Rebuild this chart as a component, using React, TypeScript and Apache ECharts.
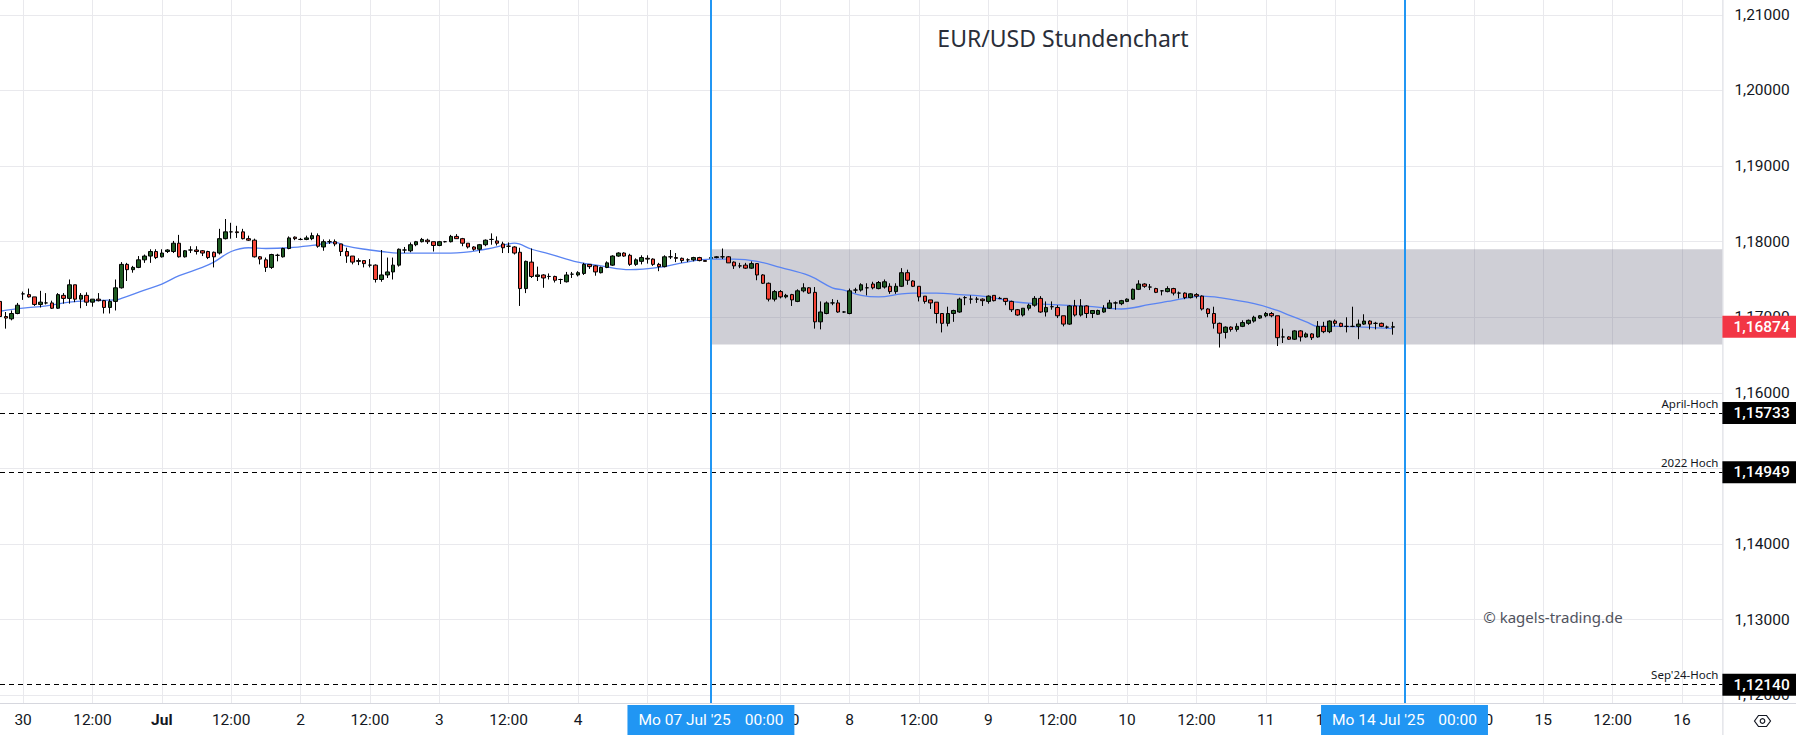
import React, { useEffect, useRef } from "react";
import * as echarts from "echarts";

// ---------- DATA ----------
// trading sessions (hour slots per day, weekends skipped)
const sessionDays = [
  { date: "2025-06-27", from: 19, to: 22 },
  { date: "2025-06-30", from: 0, to: 23 },
  { date: "2025-07-01", from: 0, to: 23 },
  { date: "2025-07-02", from: 0, to: 23 },
  { date: "2025-07-03", from: 0, to: 23 },
  { date: "2025-07-04", from: 0, to: 22 },
  { date: "2025-07-07", from: 0, to: 23 },
  { date: "2025-07-08", from: 0, to: 23 },
  { date: "2025-07-09", from: 0, to: 23 },
  { date: "2025-07-10", from: 0, to: 23 },
  { date: "2025-07-11", from: 0, to: 23 },
  { date: "2025-07-14", from: 0, to: 23 },
  { date: "2025-07-15", from: 0, to: 23 },
  { date: "2025-07-16", from: 0, to: 7 },
];

// hourly candles [open, high, low, close]
const c0627 = [
  [1.1721, 1.1723, 1.1699, 1.1701], [1.1701, 1.1707, 1.1685, 1.1699], [1.1698, 1.1709, 1.1696, 1.1705],
  [1.1705, 1.1719, 1.1704, 1.1716],
];
const c0630 = [
  [1.1731, 1.1734, 1.1723, 1.1731], [1.173, 1.1738, 1.1726, 1.1727], [1.1727, 1.1727, 1.1715, 1.1717],
  [1.1717, 1.1735, 1.1713, 1.172], [1.1719, 1.1732, 1.1717, 1.1719], [1.1719, 1.1722, 1.1711, 1.1712],
  [1.1712, 1.1732, 1.1711, 1.173], [1.1729, 1.1732, 1.1718, 1.1725], [1.1725, 1.175, 1.1718, 1.1743],
  [1.1743, 1.1743, 1.172, 1.1724], [1.1724, 1.1732, 1.1712, 1.1729], [1.1729, 1.1733, 1.1715, 1.172],
  [1.172, 1.1724, 1.1714, 1.1724], [1.1724, 1.1732, 1.1721, 1.1722], [1.1722, 1.1723, 1.1705, 1.1713],
  [1.1713, 1.1724, 1.1705, 1.1721], [1.1721, 1.175, 1.1709, 1.1739], [1.1739, 1.1773, 1.1738, 1.177],
  [1.177, 1.1772, 1.1748, 1.1763], [1.1763, 1.1768, 1.1759, 1.1766], [1.1766, 1.1781, 1.1765, 1.1776],
  [1.1776, 1.1783, 1.1772, 1.1781], [1.1781, 1.179, 1.1772, 1.1787], [1.1787, 1.179, 1.1777, 1.1779],
];
const c0701 = [
  [1.178, 1.179, 1.1779, 1.1785], [1.1787, 1.179, 1.1785, 1.1789], [1.1787, 1.1801, 1.1785, 1.1798],
  [1.1798, 1.1809, 1.1779, 1.178], [1.178, 1.1789, 1.1779, 1.1788], [1.1789, 1.1794, 1.1785, 1.1789],
  [1.1789, 1.1794, 1.1783, 1.1787], [1.1788, 1.1789, 1.1781, 1.1785], [1.1787, 1.1788, 1.1777, 1.1779],
  [1.1786, 1.1787, 1.1766, 1.178], [1.1785, 1.1817, 1.1783, 1.1804], [1.1804, 1.183, 1.1803, 1.1813],
  [1.1813, 1.1825, 1.1804, 1.1813], [1.1813, 1.1821, 1.1805, 1.1812], [1.1813, 1.1817, 1.1803, 1.1804],
  [1.1804, 1.1808, 1.1801, 1.1802], [1.1802, 1.1804, 1.1779, 1.178], [1.178, 1.1781, 1.177, 1.1777],
  [1.1776, 1.1779, 1.176, 1.1766], [1.1766, 1.1784, 1.1764, 1.1783], [1.1782, 1.1784, 1.1774, 1.1782],
  [1.178, 1.1792, 1.1779, 1.1791], [1.1791, 1.1807, 1.179, 1.1805], [1.1806, 1.1807, 1.1802, 1.1804],
];
const c0702 = [
  [1.1803, 1.1805, 1.1802, 1.1803], [1.1803, 1.1808, 1.1802, 1.1805], [1.1804, 1.1812, 1.1802, 1.1808],
  [1.1808, 1.1811, 1.1792, 1.1794], [1.1793, 1.1803, 1.1788, 1.18], [1.18, 1.1803, 1.1797, 1.18],
  [1.18, 1.1803, 1.1794, 1.1797], [1.1797, 1.1797, 1.1781, 1.1787], [1.1787, 1.1792, 1.1772, 1.1781],
  [1.1781, 1.1781, 1.177, 1.1773], [1.1775, 1.1778, 1.1769, 1.1774], [1.1775, 1.1775, 1.1766, 1.1771],
  [1.1769, 1.1777, 1.1766, 1.1769], [1.1769, 1.177, 1.1746, 1.175], [1.175, 1.1789, 1.1747, 1.1756],
  [1.1756, 1.1779, 1.1752, 1.176], [1.176, 1.1779, 1.175, 1.1769], [1.1769, 1.1791, 1.1767, 1.179],
  [1.1789, 1.1793, 1.1785, 1.1789], [1.1788, 1.1799, 1.1786, 1.1796], [1.1796, 1.1801, 1.1794, 1.18],
  [1.18, 1.1805, 1.1799, 1.1803], [1.1802, 1.1804, 1.1797, 1.18], [1.18, 1.18, 1.1787, 1.1795],
];
const c0703 = [
  [1.1795, 1.1801, 1.1794, 1.18], [1.18, 1.1801, 1.1799, 1.18], [1.18, 1.1809, 1.1799, 1.1807],
  [1.1807, 1.181, 1.1804, 1.1804], [1.1804, 1.1805, 1.1794, 1.1798], [1.1798, 1.1798, 1.1791, 1.1793],
  [1.1793, 1.1794, 1.1788, 1.179], [1.179, 1.1797, 1.1785, 1.1796], [1.1796, 1.1803, 1.1794, 1.1802],
  [1.1803, 1.1811, 1.1796, 1.1803], [1.1801, 1.1807, 1.1795, 1.1798], [1.1797, 1.18, 1.1785, 1.1792],
  [1.1794, 1.1799, 1.1785, 1.1794], [1.1793, 1.1794, 1.1783, 1.1785], [1.1786, 1.1792, 1.1715, 1.1738],
  [1.1738, 1.1775, 1.1732, 1.1774], [1.1773, 1.1791, 1.1752, 1.1754], [1.1754, 1.1767, 1.1748, 1.1756],
  [1.1756, 1.1757, 1.1739, 1.1752], [1.1754, 1.1758, 1.175, 1.1754], [1.1754, 1.1755, 1.1746, 1.1749],
  [1.175, 1.1751, 1.1744, 1.175], [1.1747, 1.176, 1.1746, 1.1756], [1.1757, 1.176, 1.1752, 1.1757],
];
const c0704 = [
  [1.1756, 1.1761, 1.1754, 1.1759], [1.1758, 1.1772, 1.1756, 1.177], [1.177, 1.177, 1.1764, 1.1767],
  [1.1768, 1.1769, 1.1755, 1.176], [1.1759, 1.1767, 1.1758, 1.1766], [1.1766, 1.1774, 1.1765, 1.1772],
  [1.1769, 1.1782, 1.1768, 1.1781], [1.1781, 1.1786, 1.178, 1.1785], [1.1785, 1.1786, 1.178, 1.1781],
  [1.1782, 1.1784, 1.1768, 1.177], [1.177, 1.1778, 1.1768, 1.1776], [1.1774, 1.1782, 1.177, 1.1779],
  [1.1778, 1.1782, 1.1771, 1.1777], [1.1777, 1.1778, 1.1768, 1.177], [1.177, 1.1772, 1.1761, 1.1767],
  [1.1767, 1.1782, 1.1766, 1.178], [1.178, 1.1789, 1.1777, 1.178], [1.1779, 1.1785, 1.1773, 1.1778],
  [1.1778, 1.1779, 1.1772, 1.1775], [1.1776, 1.1778, 1.1773, 1.1776], [1.1776, 1.178, 1.1774, 1.1779],
  [1.1779, 1.178, 1.1774, 1.1775], [1.1775, 1.1775, 1.1774, 1.1774],
];
const c0707 = [
  [1.1778, 1.1781, 1.1776, 1.1779], [1.1779, 1.1781, 1.1778, 1.178], [1.178, 1.1791, 1.1777, 1.178],
  [1.178, 1.1781, 1.1772, 1.1772], [1.1773, 1.1774, 1.1764, 1.1768], [1.1768, 1.1772, 1.1765, 1.1768],
  [1.1769, 1.1772, 1.1764, 1.1765], [1.1765, 1.1774, 1.1764, 1.1771], [1.1771, 1.1771, 1.1749, 1.1756],
  [1.1756, 1.1757, 1.1744, 1.1745], [1.1745, 1.1746, 1.1721, 1.1724], [1.1724, 1.1736, 1.1721, 1.1734],
  [1.1734, 1.1736, 1.1725, 1.1727], [1.1727, 1.1731, 1.1725, 1.1729], [1.173, 1.1731, 1.1715, 1.1723],
  [1.1721, 1.1737, 1.172, 1.1735], [1.1735, 1.1745, 1.1733, 1.1739], [1.1739, 1.174, 1.1731, 1.1732],
  [1.1733, 1.174, 1.1685, 1.1694], [1.1694, 1.1721, 1.1684, 1.1707], [1.1705, 1.1721, 1.1704, 1.1719],
  [1.1719, 1.1724, 1.1716, 1.1719], [1.1719, 1.1723, 1.1706, 1.1707], [1.1707, 1.1708, 1.1706, 1.1707],
];
const c0708 = [
  [1.1705, 1.1738, 1.1704, 1.1735], [1.1736, 1.1739, 1.1732, 1.1736], [1.1736, 1.1745, 1.1734, 1.1743],
  [1.1739, 1.1745, 1.1729, 1.1739], [1.1744, 1.1747, 1.1737, 1.1739], [1.1738, 1.1748, 1.1737, 1.1746],
  [1.174, 1.175, 1.1738, 1.1747], [1.1741, 1.1745, 1.1731, 1.1734], [1.1734, 1.1745, 1.1731, 1.1741],
  [1.1741, 1.1765, 1.174, 1.1759], [1.1759, 1.1763, 1.1743, 1.1749], [1.1748, 1.1749, 1.174, 1.1741],
  [1.1741, 1.1741, 1.1721, 1.1727], [1.1728, 1.1728, 1.1718, 1.1721], [1.1723, 1.1723, 1.1711, 1.1719],
  [1.172, 1.172, 1.1692, 1.1705], [1.1705, 1.1705, 1.168, 1.1692], [1.1692, 1.1714, 1.1688, 1.1705],
  [1.1705, 1.171, 1.1694, 1.1709], [1.1707, 1.1726, 1.1706, 1.1724], [1.1726, 1.1728, 1.1716, 1.1726],
  [1.1724, 1.1729, 1.1718, 1.1724], [1.1724, 1.1727, 1.1719, 1.1724], [1.1724, 1.1725, 1.1715, 1.1722],
];
const c0709 = [
  [1.1721, 1.1729, 1.1718, 1.1728], [1.1729, 1.1729, 1.1721, 1.1722], [1.1725, 1.1727, 1.1724, 1.1725],
  [1.1725, 1.1725, 1.1716, 1.1721], [1.1721, 1.1722, 1.1707, 1.171], [1.171, 1.1711, 1.1702, 1.1703],
  [1.1703, 1.1712, 1.1701, 1.1712], [1.1712, 1.1718, 1.1709, 1.1716], [1.1716, 1.1728, 1.1714, 1.1725],
  [1.1725, 1.1728, 1.1706, 1.1707], [1.1707, 1.1721, 1.1701, 1.1713], [1.1714, 1.1721, 1.171, 1.1714],
  [1.1713, 1.1716, 1.1699, 1.1702], [1.1702, 1.1702, 1.1688, 1.1691], [1.1691, 1.1716, 1.169, 1.1715],
  [1.1715, 1.1723, 1.1701, 1.1703], [1.1703, 1.1724, 1.1701, 1.1715], [1.1715, 1.1716, 1.1699, 1.1705],
  [1.1705, 1.1709, 1.1699, 1.1709], [1.1704, 1.171, 1.1703, 1.1709], [1.1707, 1.1716, 1.1706, 1.1712],
  [1.1712, 1.1723, 1.1711, 1.1719], [1.1719, 1.1721, 1.171, 1.1719], [1.1718, 1.1723, 1.1716, 1.1722],
];
const c0710 = [
  [1.1721, 1.1725, 1.172, 1.1724], [1.1724, 1.1738, 1.1723, 1.1737], [1.1737, 1.1749, 1.1736, 1.1744],
  [1.1744, 1.1745, 1.1739, 1.1741], [1.174, 1.1744, 1.1736, 1.174], [1.1738, 1.1739, 1.1732, 1.1733],
  [1.1735, 1.1736, 1.1729, 1.1735], [1.1734, 1.1741, 1.1733, 1.1738], [1.1738, 1.1739, 1.1729, 1.1732],
  [1.1732, 1.1734, 1.1725, 1.1732], [1.1732, 1.1733, 1.1724, 1.1726], [1.1726, 1.1732, 1.1725, 1.1731],
  [1.173, 1.1732, 1.1725, 1.1728], [1.1728, 1.1729, 1.1709, 1.1711], [1.1711, 1.1712, 1.17, 1.1705],
  [1.1705, 1.1714, 1.1685, 1.1692], [1.1692, 1.1693, 1.166, 1.1679], [1.168, 1.1688, 1.1672, 1.1687],
  [1.1687, 1.1688, 1.1681, 1.1684], [1.1684, 1.1692, 1.1681, 1.1688], [1.1688, 1.1696, 1.1687, 1.1693],
  [1.1692, 1.1697, 1.169, 1.1696], [1.1695, 1.1702, 1.1693, 1.17], [1.1699, 1.1703, 1.1698, 1.1702],
];
const c0711 = [
  [1.1702, 1.1707, 1.17, 1.1705], [1.1705, 1.1707, 1.17, 1.1702], [1.1702, 1.1702, 1.1662, 1.1673],
  [1.1674, 1.1685, 1.1666, 1.1674], [1.1674, 1.1675, 1.167, 1.1671], [1.1671, 1.1683, 1.167, 1.1682],
  [1.1682, 1.1683, 1.1668, 1.1674], [1.1674, 1.168, 1.1673, 1.1678], [1.1678, 1.1679, 1.167, 1.1673],
  [1.1674, 1.1695, 1.1673, 1.1688], [1.1688, 1.1694, 1.1679, 1.1681], [1.1681, 1.1696, 1.1679, 1.1695],
  [1.1695, 1.1697, 1.1688, 1.1692], [1.1692, 1.1693, 1.1687, 1.1688], [1.1688, 1.17, 1.168, 1.1688],
  [1.1688, 1.1714, 1.1687, 1.1688], [1.1688, 1.1697, 1.1671, 1.1691], [1.1691, 1.1704, 1.169, 1.1695],
  [1.1695, 1.1696, 1.1684, 1.1691], [1.1692, 1.1694, 1.1684, 1.1692], [1.1692, 1.1693, 1.1687, 1.1688],
  [1.1687, 1.1689, 1.1685, 1.1687], [1.1687, 1.1694, 1.1677, 1.16874],
];

// moving average [time, value]
const maPoints: [string, number][] = [
  ["2025-06-27 19:00", 1.1708], ["2025-06-30 00:00", 1.1712], ["2025-06-30 04:00", 1.1715],
  ["2025-06-30 08:00", 1.172], ["2025-06-30 12:00", 1.1722], ["2025-06-30 16:00", 1.1723],
  ["2025-06-30 17:00", 1.1725], ["2025-06-30 21:00", 1.1736], ["2025-07-01 00:00", 1.1744],
  ["2025-07-01 03:00", 1.1755], ["2025-07-01 07:00", 1.1766], ["2025-07-01 09:00", 1.1773],
  ["2025-07-01 12:00", 1.1787], ["2025-07-01 15:00", 1.1792], ["2025-07-01 18:00", 1.1791],
  ["2025-07-01 22:00", 1.1792], ["2025-07-02 02:00", 1.1795], ["2025-07-02 06:00", 1.1799],
  ["2025-07-02 08:00", 1.1794], ["2025-07-02 12:00", 1.1789], ["2025-07-02 14:00", 1.1787],
  ["2025-07-02 17:00", 1.1785], ["2025-07-02 21:00", 1.1785], ["2025-07-03 02:00", 1.1785],
  ["2025-07-03 08:00", 1.179], ["2025-07-03 12:00", 1.1797], ["2025-07-03 13:00", 1.1798],
  ["2025-07-03 16:00", 1.179], ["2025-07-03 19:00", 1.1784], ["2025-07-04 00:00", 1.1773],
  ["2025-07-04 04:00", 1.1768], ["2025-07-04 09:00", 1.1763], ["2025-07-04 14:00", 1.1766],
  ["2025-07-04 18:00", 1.1772], ["2025-07-07 00:00", 1.1777], ["2025-07-07 04:00", 1.1777],
  ["2025-07-07 08:00", 1.1774], ["2025-07-07 12:00", 1.1766], ["2025-07-07 17:00", 1.1755],
  ["2025-07-07 21:00", 1.1739], ["2025-07-07 23:00", 1.1736], ["2025-07-08 02:00", 1.1729],
  ["2025-07-08 05:00", 1.1727], ["2025-07-08 09:00", 1.1731], ["2025-07-08 11:00", 1.1732],
  ["2025-07-08 15:00", 1.1732], ["2025-07-08 19:00", 1.173], ["2025-07-09 00:00", 1.1727],
  ["2025-07-09 04:00", 1.1721], ["2025-07-09 08:00", 1.1718], ["2025-07-09 13:00", 1.1716],
  ["2025-07-09 18:00", 1.1714], ["2025-07-09 23:00", 1.1711], ["2025-07-10 04:00", 1.1717],
  ["2025-07-10 07:00", 1.1721], ["2025-07-10 10:00", 1.1725], ["2025-07-10 13:00", 1.1728],
  ["2025-07-10 16:00", 1.1726], ["2025-07-10 22:00", 1.1718], ["2025-07-11 02:00", 1.1709],
  ["2025-07-11 04:00", 1.1703], ["2025-07-11 07:00", 1.1694], ["2025-07-11 09:00", 1.1688],
  ["2025-07-11 13:00", 1.1688], ["2025-07-11 17:00", 1.1687], ["2025-07-11 22:00", 1.1685],
];

const yTicks = [1.12, 1.13, 1.14, 1.15, 1.16, 1.17, 1.18, 1.19, 1.2, 1.21];
const levelNames = ["April-Hoch", "2022 Hoch", "Sep'24-Hoch"];
const levelValues = [1.15733, 1.14949, 1.1214];
const lastPrice = 1.16874;
const zoneRange = { from: "2025-07-07 00:00", to: "2025-07-16 07:00", top: 1.179, bottom: 1.1664 };
const markerTimes = ["2025-07-07 00:00", "2025-07-14 00:00"];
const markerDates = ["Mo 07 Jul '25", "Mo 14 Jul '25"];
const monthNames = ["Jan", "Feb", "Mar", "Apr", "May", "Jun", "Jul", "Aug", "Sep", "Oct", "Nov", "Dec"];
const titleText = "EUR/USD Stundenchart";
const copyrightText = "© kagels-trading.de";

// ---------- LAYOUT ----------
const W = 1796;
const H = 735;
const PLOT_W = 1722.4;
const PLOT_H = 703;
const Y_MIN = 1.11898;
const Y_MAX = 1.21197;
const GRID_COLOR = "#e9e9ed";
const AXIS_COLOR = "#d6d7de";
const TEXT_COLOR = "#131722";
const FONT = "Roboto, 'Noto Sans', sans-serif";

const pad2 = (n: number) => String(n).padStart(2, "0");
const categories: string[] = [];
sessionDays.forEach((d) => {
  for (let h = d.from; h <= d.to; h++) categories.push(`${d.date} ${pad2(h)}:00`);
});

const candles = [...c0627, ...c0630, ...c0701, ...c0702, ...c0703, ...c0704, ...c0707, ...c0708, ...c0709, ...c0710, ...c0711];
const fmt = (v: number) => v.toFixed(5).replace(".", ",");

const isGridSlot = (index: number) => {
  const t = categories[index];
  if (!t) return false;
  const hh = t.slice(11);
  return hh === "00:00" || hh === "12:00";
};
// labels hidden below the date badges are skipped
const isLabelSlot = (index: number) => isGridSlot(index) && !markerTimes.includes(categories[index]);

const labelFormatter = (value: string) => {
  const hh = value.slice(11);
  if (hh === "12:00") return "12:00";
  const day = +value.slice(8, 10);
  const mon = +value.slice(5, 7);
  if (day === 1) return `{b|${monthNames[mon - 1]}}`;
  return String(day);
};

export default function App() {
  const ref = useRef<HTMLDivElement>(null);

  useEffect(() => {
    document.body.style.margin = "0";
    if (!ref.current) return;
    const chart = echarts.init(ref.current, undefined, { renderer: "svg" });

    const levelLines = levelValues.map((v, i) => ({
      yAxis: v,
      lineStyle: { color: "#000000", width: 1, type: [5, 4] },
      label: {
        show: true,
        position: "insideEndTop",
        formatter: levelNames[i],
        color: TEXT_COLOR,
        fontSize: 11.5,
        fontFamily: "'Noto Sans', sans-serif",
        distance: 4,
      },
    }));
    const priceBox = (v: number, bg: string) => ({
      yAxis: v,
      lineStyle: { color: "rgba(0,0,0,0)", width: 0, type: "solid" },
      label: {
        show: true,
        position: "end",
        distance: 0,
        formatter: fmt(v),
        color: "#ffffff",
        backgroundColor: bg,
        fontSize: 15.5,
        fontWeight: 500,
        fontFamily: FONT,
        lineHeight: 17,
        padding: [3, 9, 2, 11],
      },
    });
    const markerLines = markerTimes.map((t, i) => ({
      xAxis: t,
      lineStyle: { color: "#2196f3", width: 2, type: "solid" },
      label: {
        show: true,
        position: "start",
        distance: 2,
        formatter: `{a|${markerDates[i]}}{g|}{a|00:00}`,
        backgroundColor: "#2196f3",
        padding: [6, 11, 6, 11],
        rich: {
          a: { color: "#ffffff", fontSize: 15.5, fontFamily: FONT, lineHeight: 18 },
          g: { width: 14 },
        },
      },
    }));

    const option: any = {
      animation: false,
      backgroundColor: "#ffffff",
      grid: { left: 0, top: 0, width: PLOT_W, height: PLOT_H, containLabel: false },
      xAxis: {
        type: "category",
        data: categories,
        boundaryGap: false,
        axisLine: { show: false },
        axisTick: { show: false },
        axisLabel: {
          interval: (index: number) => isLabelSlot(index),
          formatter: labelFormatter,
          color: TEXT_COLOR,
          fontSize: 15.5,
          fontFamily: FONT,
          margin: 9,
          rich: { b: { fontWeight: "bold", fontSize: 15.5, fontFamily: FONT, color: TEXT_COLOR } },
        },
        splitLine: {
          show: true,
          interval: (index: number) => isGridSlot(index),
          lineStyle: { color: GRID_COLOR, width: 1 },
        },
      },
      yAxis: {
        type: "value",
        position: "right",
        min: Y_MIN,
        max: Y_MAX,
        axisLine: { show: false },
        axisTick: { show: false, customValues: yTicks },
        axisLabel: {
          customValues: yTicks,
          formatter: (v: number) => fmt(v),
          color: TEXT_COLOR,
          fontSize: 15.5,
          fontFamily: FONT,
          margin: 12,
          align: "left",
        },
        splitLine: { show: true, lineStyle: { color: GRID_COLOR, width: 1 } },
      },
      series: [
        {
          type: "line",
          z: 1,
          data: [],
          silent: true,
          markArea: {
            silent: true,
            itemStyle: { color: "rgba(110,110,130,0.33)" },
            data: [[
              { xAxis: zoneRange.from, yAxis: zoneRange.top },
              { xAxis: zoneRange.to, yAxis: zoneRange.bottom },
            ]],
          },
        },
        {
          type: "line",
          z: 2,
          data: maPoints,
          smooth: 0.4,
          showSymbol: false,
          silent: true,
          lineStyle: { color: "#5a84f2", width: 1.3 },
        },
        {
          type: "candlestick",
          z: 3,
          silent: true,
          barWidth: 4,
          clip: true,
          data: candles.map(([o, h, l, c]) => [o, c, l, h]),
          itemStyle: {
            color: "#1e5b22",
            color0: "#f44336",
            borderColor: "#000000",
            borderColor0: "#000000",
            borderWidth: 1,
          },
          markLine: {
            silent: true,
            precision: 5,
            symbol: ["none", "none"],
            animation: false,
            data: [
              ...levelLines,
              ...levelValues.map((v) => priceBox(v, "#000000")),
              priceBox(lastPrice, "#f23645"),
              ...markerLines,
            ],
          },
        },
      ],
      graphic: [
        {
          type: "line",
          z: 5,
          shape: { x1: PLOT_W + 0.5, y1: 0, x2: PLOT_W + 0.5, y2: H },
          style: { stroke: AXIS_COLOR, lineWidth: 1 },
        },
        {
          type: "line",
          z: 5,
          shape: { x1: 0, y1: PLOT_H + 0.5, x2: W, y2: PLOT_H + 0.5 },
          style: { stroke: AXIS_COLOR, lineWidth: 1 },
        },
        {
          type: "text",
          z: 10,
          x: 1063,
          y: 38,
          style: {
            text: titleText,
            fill: "#2a2e39",
            font: "23px 'Noto Sans', sans-serif",
            align: "center",
            verticalAlign: "middle",
          },
        },
        {
          type: "text",
          z: 10,
          x: 1553,
          y: 617,
          style: {
            text: copyrightText,
            fill: "#50535e",
            font: "15px 'Noto Sans', sans-serif",
            align: "center",
            verticalAlign: "middle",
          },
        },
        {
          type: "polygon",
          z: 10,
          shape: {
            points: [
              [1754.5, 721], [1758.5, 715.5], [1766.5, 715.5], [1770.5, 721], [1766.5, 726.5], [1758.5, 726.5],
            ],
          },
          style: { fill: "none", stroke: TEXT_COLOR, lineWidth: 1.2 },
        },
        {
          type: "circle",
          z: 10,
          shape: { cx: 1762.5, cy: 721, r: 2.3 },
          style: { fill: "none", stroke: TEXT_COLOR, lineWidth: 1.2 },
        },
      ],
    };

    chart.setOption(option);
    return () => chart.dispose();
  }, []);

  return (
    <div
      ref={ref}
      style={{ position: "fixed", left: 0, top: 0, width: W, height: H, background: "#ffffff" }}
    />
  );
}
